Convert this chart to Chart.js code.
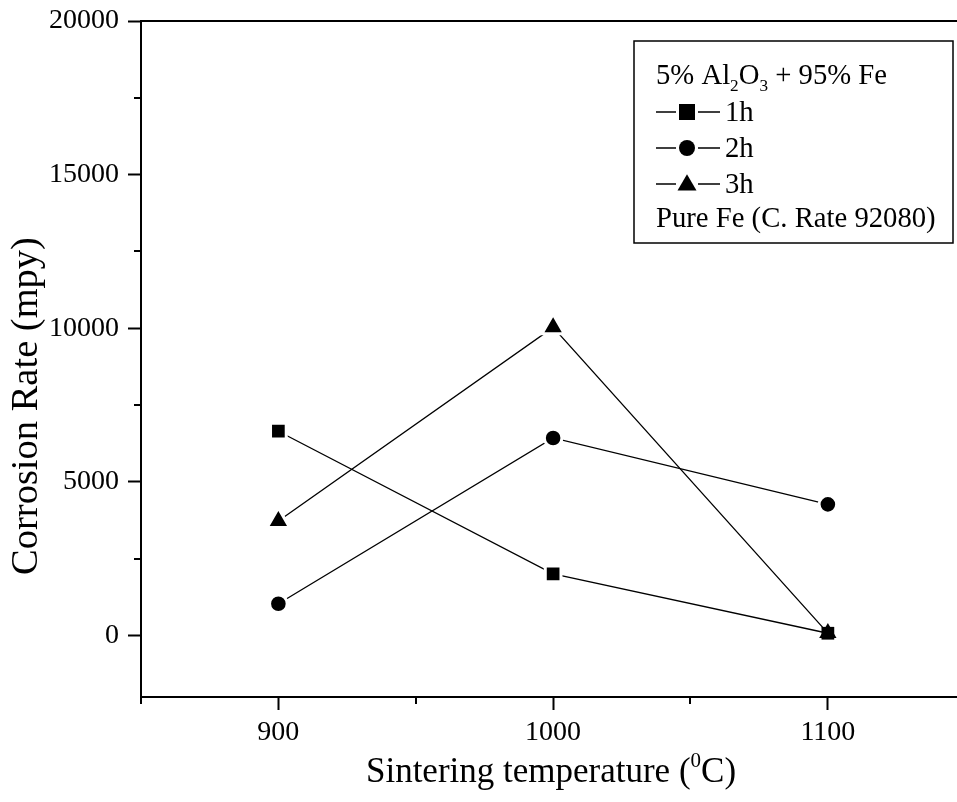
<!DOCTYPE html>
<html><head><meta charset="utf-8">
<script src="https://cdn.jsdelivr.net/npm/chart.js@4/dist/chart.umd.min.js"></script>
<style>html,body{margin:0;padding:0;background:#fff;overflow:hidden;}#wrap{width:957px;height:802px;}canvas{display:block;}</style>
</head><body><div id="wrap"><canvas id="c" width="957" height="802"></canvas></div>
<script>
// ---- data ----
const temperatures = [900, 1000, 1100];
const rate1h = [6650, 2010, 75];
const rate2h = [1035, 6430, 4270];
const rate3h = [3730, 10030, 80];
const seriesNames = ['1h', '2h', '3h'];
const xMajorTicks = [900, 1000, 1100];
const xMinorTicks = [850, 950, 1050];
const yMajorTicks = [0, 5000, 10000, 15000, 20000];
const yMinorTicks = [2500, 7500, 12500, 17500];
const legendTitleParts = [['5% Al', 0], ['2', 1], ['O', 0], ['3', 1], [' + 95% Fe', 0]];
const legendNote = 'Pure Fe (C. Rate 92080)';
const xTitleParts = [['Sintering temperature (', 0], ['0', 2], ['C)', 0]];
const yTitle = 'Corrosion Rate (mpy)';

const FONT = "'Liberation Serif', 'Times New Roman', serif";
const allSeries = [rate1h, rate2h, rate3h];
const styles = ['rect', 'circle', 'triangle'];
const baseR = {rect: 9, circle: 7.3, triangle: 10};
const extraR = {rect: 2.1, circle: 1.5, triangle: 3};

function overlaps(ctx) {
  const di = ctx.datasetIndex, i = ctx.dataIndex;
  if (di === undefined || i === undefined) return false;
  const v = allSeries[di][i];
  return allSeries.some((s, k) => k !== di && Math.abs(s[i] - v) < 600);
}

function makeDataset(k) {
  const st = styles[k];
  return {
    label: seriesNames[k],
    data: temperatures.map((t, i) => ({x: t, y: allSeries[k][i]})),
    borderColor: '#000', borderWidth: 1.3, tension: 0,
    pointStyle: st,
    backgroundColor: '#000',
    pointBackgroundColor: '#000',
    pointBorderColor: '#fff',
    pointBorderWidth: ctx => overlaps(ctx) ? 0 : 3,
    pointRadius: ctx => baseR[st] + (overlaps(ctx) ? 0 : extraR[st]),
    pointHoverRadius: ctx => baseR[st] + (overlaps(ctx) ? 0 : extraR[st]),
  };
}

function drawMarker(ctx, st, x, y, s) {
  ctx.beginPath();
  if (st === 'rect') ctx.rect(x - s/2, y - s/2, s, s);
  else if (st === 'circle') ctx.arc(x, y, s/2, 0, Math.PI*2);
  else { const h = s*0.866; ctx.moveTo(x, y - h*0.6); ctx.lineTo(x + s/2, y + h*0.4); ctx.lineTo(x - s/2, y + h*0.4); ctx.closePath(); }
  ctx.fill();
}

function drawParts(ctx, parts, x, y, size, align) {
  const sizes = [size, size*0.6, size*0.6];
  const offs = [0, size*0.26, -size*0.42];
  let total = 0;
  parts.forEach(([t, k]) => { ctx.font = sizes[k] + 'px ' + FONT; total += ctx.measureText(t).width; });
  let cx = align === 'center' ? x - total/2 : x;
  ctx.textAlign = 'left';
  parts.forEach(([t, k]) => { ctx.font = sizes[k] + 'px ' + FONT; ctx.fillText(t, cx, y + offs[k]); cx += ctx.measureText(t).width; });
}

const decor = {
  id: 'decor',
  afterDraw(chart) {
    const ctx = chart.ctx, a = chart.chartArea, xs = chart.scales.x, ys = chart.scales.y;
    ctx.save();
    ctx.strokeStyle = '#000'; ctx.fillStyle = '#000';
    // top frame line
    ctx.lineWidth = 2;
    ctx.beginPath(); ctx.moveTo(a.left - 1, a.top); ctx.lineTo(957, a.top); ctx.stroke();
    // minor ticks
    xMinorTicks.forEach(v => { const p = Math.round(xs.getPixelForValue(v)); ctx.beginPath(); ctx.moveTo(p, a.bottom); ctx.lineTo(p, a.bottom + 7); ctx.stroke(); });
    yMinorTicks.forEach(v => { const p = Math.round(ys.getPixelForValue(v)); ctx.beginPath(); ctx.moveTo(a.left, p); ctx.lineTo(a.left - 7, p); ctx.stroke(); });
    // axis titles
    ctx.textBaseline = 'alphabetic';
    drawParts(ctx, xTitleParts, 551, 782, 35, 'center');
    ctx.save();
    ctx.translate(37, 406); ctx.rotate(-Math.PI/2);
    ctx.font = '38.5px ' + FONT; ctx.textAlign = 'center';
    ctx.fillText(yTitle, 0, 0);
    ctx.restore();
    // legend box
    ctx.lineWidth = 1.5;
    ctx.strokeRect(634, 41, 319, 202);
    drawParts(ctx, legendTitleParts, 656, 84, 28.7, 'left');
    const rows = [121, 157, 193];
    rows.forEach((b, k) => {
      const cy = b - 9;
      ctx.lineWidth = 1.3;
      ctx.beginPath(); ctx.moveTo(656, cy); ctx.lineTo(676, cy); ctx.moveTo(698, cy); ctx.lineTo(720, cy); ctx.stroke();
      drawMarker(ctx, styles[k], 687, cy, styles[k] === 'triangle' ? 19 : 16);
      ctx.font = '28.7px ' + FONT; ctx.textAlign = 'left';
      ctx.fillText(seriesNames[k], 725, b);
    });
    ctx.font = '28.7px ' + FONT;
    ctx.fillText(legendNote, 656, 227);
    ctx.restore();
  }
};

new Chart(document.getElementById('c'), {
  type: 'line',
  data: {datasets: [0, 1, 2].map(makeDataset)},
  options: {
    responsive: false, animation: false, devicePixelRatio: 1, events: [],
    layout: {autoPadding: false, padding: {top: 21, left: 0, right: 0, bottom: 0}},
    plugins: {legend: {display: false}, tooltip: {enabled: false}},
    scales: {
      x: {
        type: 'linear', position: 'bottom', min: 850, max: 1147,
        afterBuildTicks: s => { s.ticks = xMajorTicks.map(v => ({value: v})); },
        afterFit: s => { s.height = 105; s.paddingLeft = 0; s.paddingRight = 0; },
        ticks: {font: {family: FONT, size: 28}, color: '#000', padding: 6, callback: v => String(v), maxRotation: 0, autoSkip: false},
        grid: {drawOnChartArea: false, tickLength: 13, tickWidth: 2, tickColor: '#000'},
        border: {color: '#000', width: 2}
      },
      y: {
        type: 'linear', min: -2000, max: 20000,
        afterBuildTicks: s => { s.ticks = yMajorTicks.map(v => ({value: v})); },
        afterFit: s => { s.width = 141; s.paddingTop = 0; s.paddingBottom = 0; },
        ticks: {font: {family: FONT, size: 28}, color: '#000', padding: 9, callback: v => String(v), autoSkip: false},
        grid: {drawOnChartArea: false, tickLength: 13, tickWidth: 2, tickColor: '#000'},
        border: {color: '#000', width: 2}
      }
    }
  },
  plugins: [decor]
});
</script></body></html>
